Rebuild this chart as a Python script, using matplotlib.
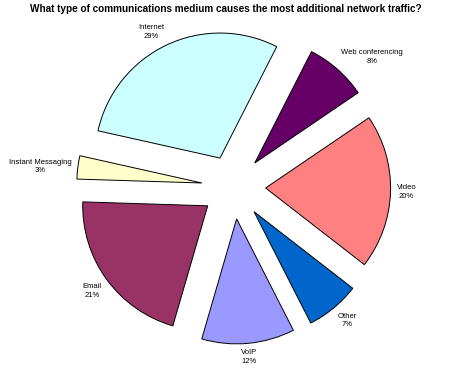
import numpy as np
import matplotlib
matplotlib.use("Agg")
import matplotlib.pyplot as plt

# Survey results, clockwise from the top
categories = ['Web conferencing', 'Video', 'Other', 'VoIP', 'Email',
              'Instant Messaging', 'Internet']
shares = [8, 20, 7, 12, 21, 3, 29]
colors = ['#660066', '#FF8080', '#0066CC', '#9999FF', '#993366',
          '#FFFFCC', '#CCFFFF']
title = 'What type of communications medium causes the most additional network traffic?'

plt.rcParams['font.family'] = ['Liberation Sans', 'DejaVu Sans']

W, H = 454, 374
fig = plt.figure(figsize=(W / 100, H / 100), dpi=100)
ax = fig.add_axes([0, 0, 1, 1])

radius = 125
explode_px = 32
labels = [f'{c}\n{v}%' for c, v in zip(categories, shares)]

wedges, texts = ax.pie(shares, labels=labels, colors=colors,
                       explode=[explode_px] * len(shares),
                       radius=radius, center=(233.6, 187),
                       startangle=63, counterclock=False,
                       labeldistance=1.048, frame=True,
                       wedgeprops=dict(edgecolor='black', linewidth=0.7),
                       textprops=dict(fontsize=5.5, color='black',
                                      linespacing=1.35))

# Excel-like label alignment: text box sits just outside the slice
for w, t in zip(wedges, texts):
    mid = np.deg2rad((w.theta1 + w.theta2) / 2)
    ux, uy = np.cos(mid), np.sin(mid)
    if ux > 0.3:
        t.set_ha('left')
    elif ux < -0.3:
        t.set_ha('right')
    else:
        t.set_ha('center')
    if uy > 0.5:
        t.set_va('bottom')
    elif uy < -0.5:
        t.set_va('top')
    else:
        t.set_va('center')
    t.set_multialignment('center')

ax.set_xlim(0, W)
ax.set_ylim(0, H)
ax.set_aspect('auto')
ax.axis('off')

fig.text(226 / W, 1 - 9 / H, title, ha='center', va='center',
         fontsize=7.2, fontweight='bold')

fig.savefig('out.png', dpi=100)
